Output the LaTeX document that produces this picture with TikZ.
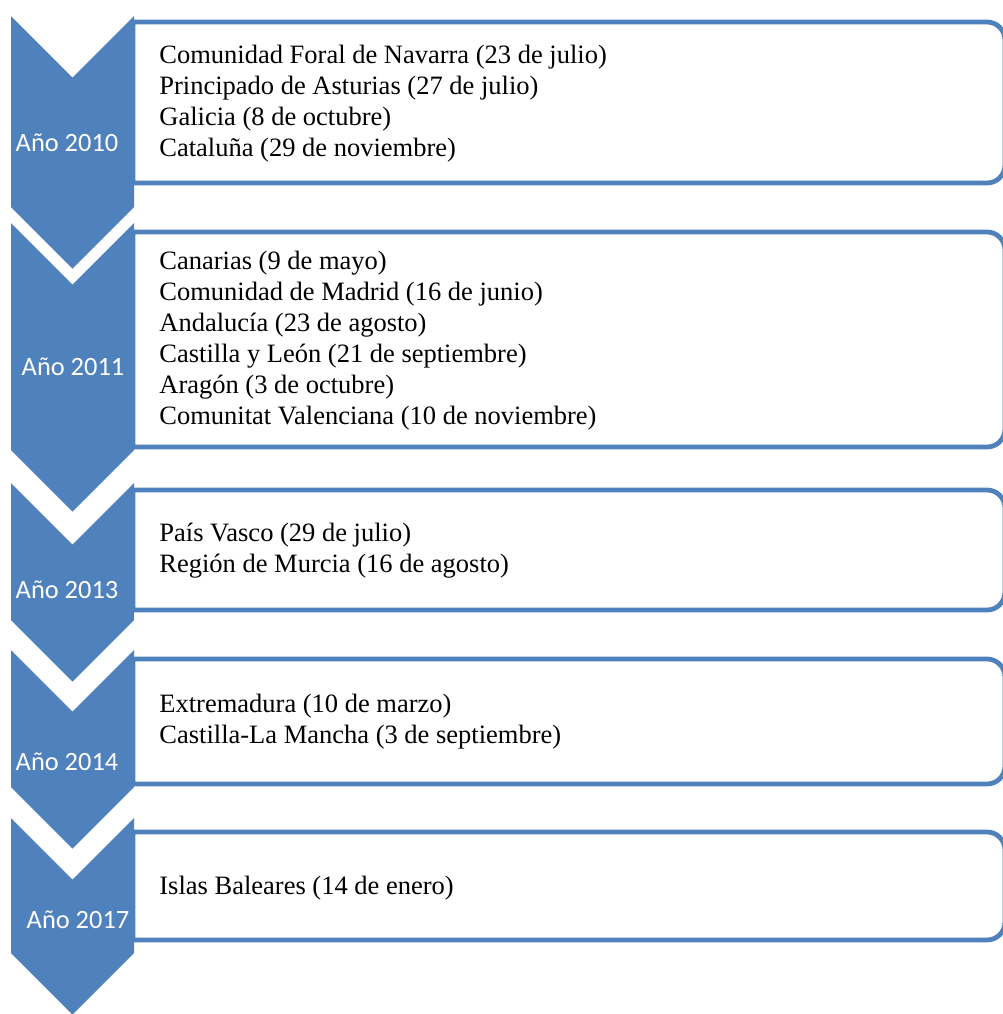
\documentclass[tikz,border=0pt]{standalone}
\usepackage{fontspec}
\setmainfont{Liberation Serif}
\newfontfamily\yearfont{Carlito}
\definecolor{accentblue}{HTML}{4F81BD}
\tikzset{
  chev/.style={fill=accentblue, draw=none},
  boxst/.style={fill=white, draw=accentblue, line width=2.4pt, line join=round},
  yearlbl/.style={text=white, font=\yearfont\fontsize{13.2}{15}\selectfont, inner sep=0pt},
  itemtxt/.style={anchor=west, align=left, inner sep=0pt, text=black, font=\fontsize{13.25}{15.5}\selectfont}
}
\begin{document}
\begin{tikzpicture}[x=0.5pt,y=0.5pt]
\useasboundingbox (0,0) rectangle (1003,-1014);
\clip (0,0) rectangle (1003,-1014);
% boxes
\foreach \t/\b in {22/183, 232/447, 490/610, 659/784, 832/940}{
  \draw[boxst] (133,-\t) -- (987,-\t) arc[start angle=90,end angle=0,radius=18]
    -- (1005,-\b+18) arc[start angle=0,end angle=-90,radius=18] -- (133,-\b) -- cycle;
}
% chevrons
\foreach \t/\s in {16/207, 223/450, 483/620, 650/787, 818/953}{
  \fill[chev] (11,-\t) -- (72.5,-\t-61.5) -- (134,-\t) -- (134,-\s) -- (72.5,-\s-61.5) -- (11,-\s) -- cycle;
}
% year labels
\node[yearlbl] (y1) at (67,-143) {Año 2010};
\node[yearlbl] (y2) at (73,-367) {Año 2011};
\node[yearlbl] (y3) at (67,-590) {Año 2013};
\node[yearlbl] (y4) at (67,-762) {Año 2014};
\node[yearlbl] (y5) at (78,-920) {Año 2017};
% item texts
\node[itemtxt] (t1) at (159,-104) {Comunidad Foral de Navarra (23 de julio)\\Principado de Asturias (27 de julio)\\Galicia (8 de octubre)\\Cataluña (29 de noviembre)};
\node[itemtxt] (t2) at (159,-341) {Canarias (9 de mayo)\\Comunidad de Madrid (16 de junio)\\Andalucía (23 de agosto)\\Castilla y León (21 de septiembre)\\Aragón (3 de octubre)\\Comunitat Valenciana (10 de noviembre)};
\node[itemtxt] (t3) at (159,-551) {País Vasco (29 de julio)\\Región de Murcia (16 de agosto)};
\node[itemtxt] (t4) at (159,-722) {Extremadura (10 de marzo)\\Castilla-La Mancha (3 de septiembre)};
\node[itemtxt] (t5) at (159,-888) {Islas Baleares (14 de enero)};
\end{tikzpicture}
\end{document}
